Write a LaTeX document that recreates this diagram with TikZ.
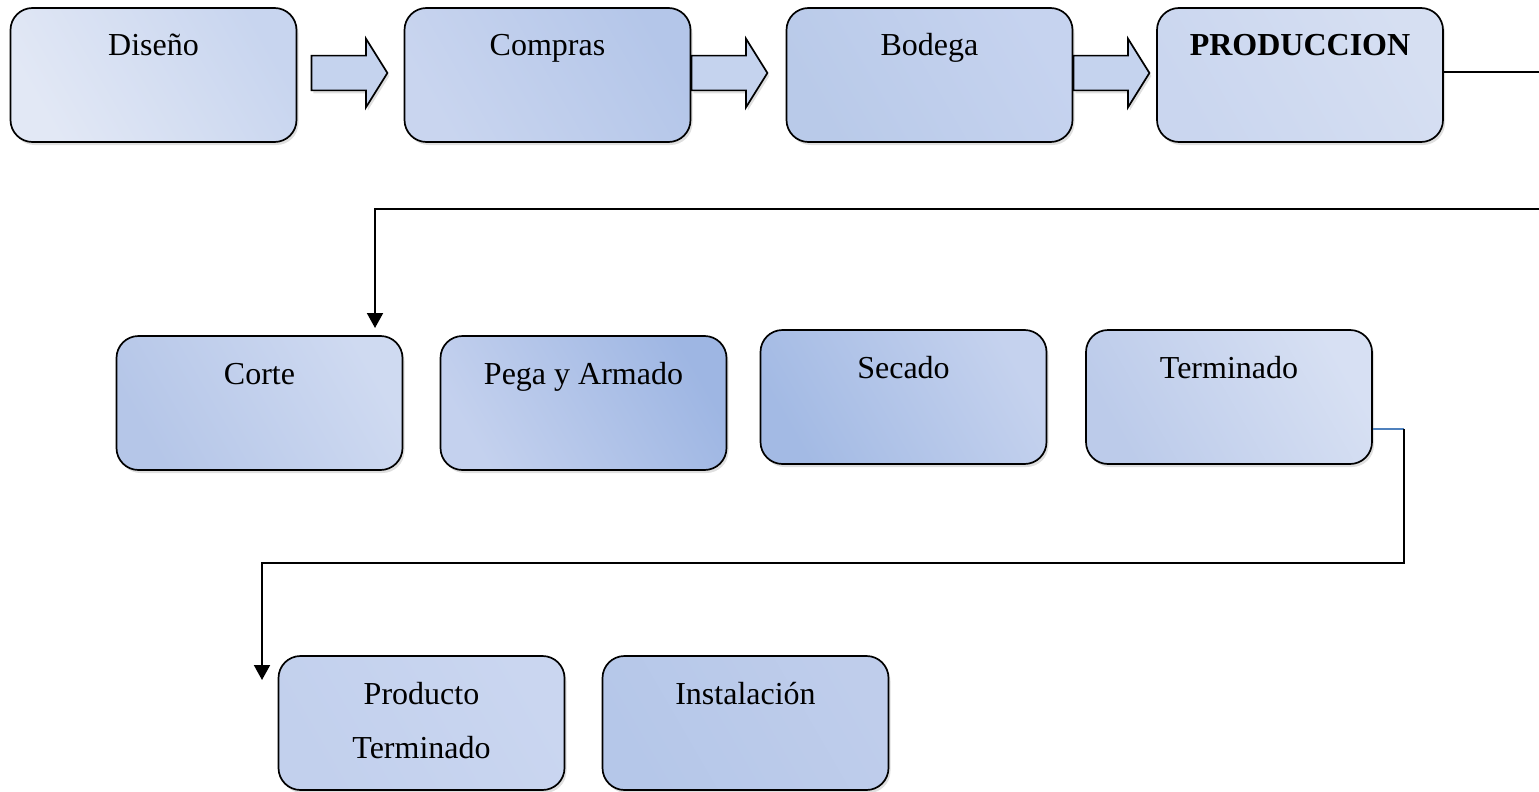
\documentclass[tikz,border=0pt]{standalone}
\usepackage{fontspec}
\setmainfont{Liberation Serif}
\usetikzlibrary{shapes.arrows, arrows.meta, positioning, shadows}
\definecolor{lineablue}{HTML}{4F81BD}
\definecolor{disA}{HTML}{E2E8F5}\definecolor{disB}{HTML}{C8D5EF}
\definecolor{comA}{HTML}{C9D5EF}\definecolor{comB}{HTML}{B4C6E9}
\definecolor{bodA}{HTML}{B9CAE9}\definecolor{bodB}{HTML}{C6D3EF}
\definecolor{proA}{HTML}{CAD6EF}\definecolor{proB}{HTML}{D6DFF2}
\definecolor{corA}{HTML}{B5C6E8}\definecolor{corB}{HTML}{CFDAF1}
\definecolor{pegA}{HTML}{C4D1EE}\definecolor{pegB}{HTML}{9EB6E3}
\definecolor{secA}{HTML}{A3BAE4}\definecolor{secB}{HTML}{C5D2EE}
\definecolor{terA}{HTML}{BCCBEA}\definecolor{terB}{HTML}{D7E0F3}
\definecolor{prtA}{HTML}{C2D0ED}\definecolor{prtB}{HTML}{CAD6F0}
\definecolor{insA}{HTML}{B5C7E9}\definecolor{insB}{HTML}{BFCDEB}
\definecolor{flechafill}{HTML}{C5D3EE}
\tikzset{
  etapa/.style={rectangle, rounded corners=22pt, draw=black, line width=1.7pt,
                minimum width=286pt, minimum height=134pt, inner sep=0pt,
                text height=48pt, text depth=86pt, align=center,
                font=\fontsize{32}{54}\selectfont,
                drop shadow={opacity=0.25, shadow xshift=2pt, shadow yshift=-3pt}},
  tono/.style={left color=#1A, right color=#1B, shading angle=120},
  flecha/.style={single arrow, draw=black, line width=1.7pt, fill=flechafill,
                 inner sep=16.5pt, minimum height=76pt, minimum width=67pt,
                 single arrow head extend=17pt, single arrow tip angle=116,
                 drop shadow={opacity=0.25, shadow xshift=2pt, shadow yshift=-3pt}},
  conector/.style={line width=2pt},
  punta/.style={-{Triangle[length=15pt,width=16pt]}},
}
\begin{document}
\begin{tikzpicture}[x=1pt, y=-1pt]
    \useasboundingbox (0,0) rectangle (1539,792);
    % fila superior
    \node[etapa, tono=dis] (dis) at (153.5,75) {Diseño};
    \node[etapa, tono=com] (com) at (547.5,75) {Compras};
    \node[etapa, tono=bod] (bod) at (929.5,75) {Bodega};
    \node[etapa, tono=pro] (pro) at (1300,75) {\textbf{PRODUCCION}};
    \node[flecha] (f1) at (344,73) {};
    \node[flecha] (f2) at (724,73) {};
    \node[flecha] (f3) at (1106,73) {};
    % fila media
    \node[etapa, tono=cor] (cor) at (259.5,403) {Corte};
    \node[etapa, tono=peg] (peg) at (583.5,403) {Pega y Armado};
    \node[etapa, tono=sec] (sec) at (903.5,397) {Secado};
    \node[etapa, tono=ter] (ter) at (1229,397) {Terminado};
    % fila inferior
    \node[etapa, tono=prt, text height=102pt, text depth=32pt] (prt) at (421.5,723) {Producto\\Terminado};
    \node[etapa, tono=ins] (ins) at (745.5,723) {Instalación};
    % conectores
    \coordinate (sal1) at (1539,72);
    \coordinate (ent1) at (1539,209);
    \coordinate (cod1) at (1404,429);
    \coordinate (lle2) at (262,680);
    \draw[conector] (pro.east |- sal1) -- (sal1);
    \draw[conector, punta] (ent1) -- (375,209) -- (375,328);
    \draw[lineablue, line width=1.4pt] (ter.east |- cod1) -- (cod1);
    \draw[conector, punta] (cod1) -- (1404,563) -- (262,563) -- (lle2);
\end{tikzpicture}
\end{document}
